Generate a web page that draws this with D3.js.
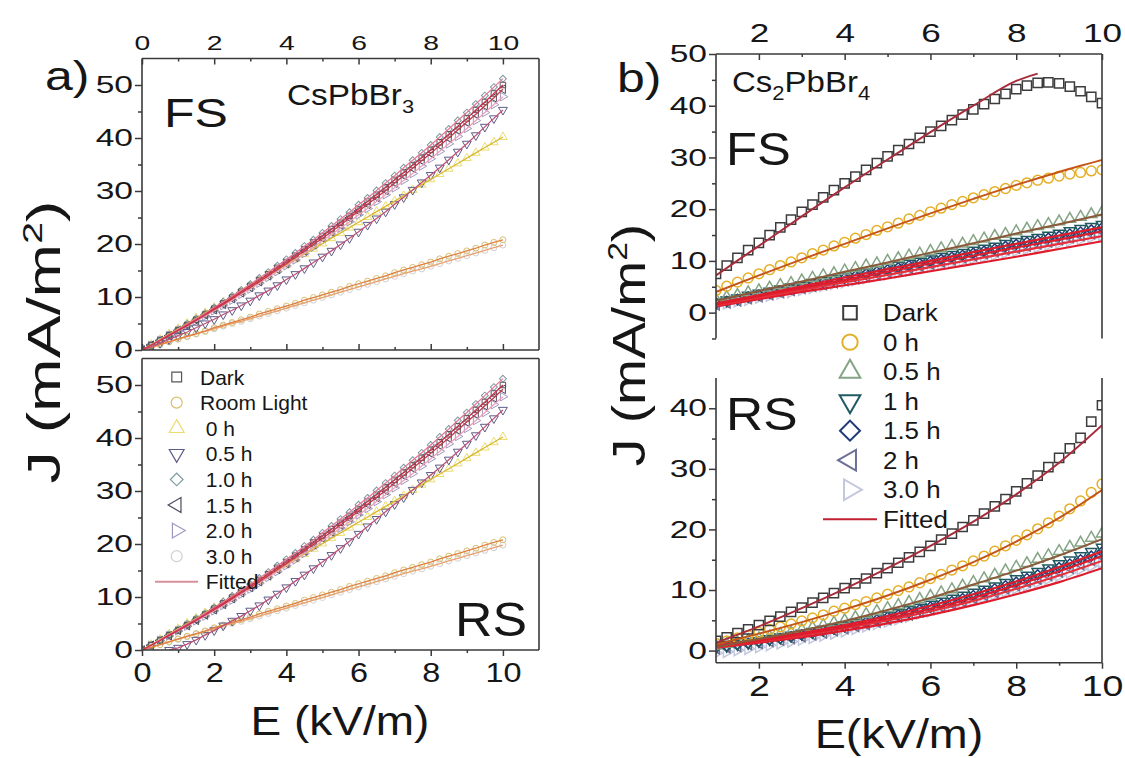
<!DOCTYPE html>
<html>
<head>
<meta charset="utf-8">
<script src="https://cdn.jsdelivr.net/npm/d3@7"></script>
<style>
  body { margin: 0; background: #fff; }
  text { font-family: "Liberation Sans", Arial, sans-serif; fill: #161616; }
</style>
</head>
<body>
<script>
// ---------- panel a) CsPbBr3, E = 0..10 kV/m (same sweep in FS and RS) ----------
var aE = [0,0.25,0.5,0.75,1,1.25,1.5,1.75,2,2.25,2.5,2.75,3,3.25,3.5,3.75,4,4.25,4.5,4.75,5,
          5.25,5.5,5.75,6,6.25,6.5,6.75,7,7.25,7.5,7.75,8,8.25,8.5,8.75,9,9.25,9.5,9.75,10];
var aNames = ["Dark", "Room Light", " 0 h", " 0.5 h", " 1.0 h", " 1.5 h", " 2.0 h", " 3.0 h"];
var aDark  = [0,0.9,1.8,2.8,3.7,4.7,5.7,6.7,7.8,8.8,9.9,11,12.1,13.2,14.3,15.5,16.6,17.8,19,20.3,21.5,
              22.8,24,25.3,26.6,28,29.3,30.7,32.1,33.5,34.9,36.3,37.8,39.2,40.7,42.2,43.7,45.3,46.8,48.4,50];
var aRoom  = [0,0.5,1.0,1.6,2.1,2.6,3.1,3.6,4.2,4.7,5.2,5.7,6.2,6.8,7.3,7.8,8.3,8.8,9.4,9.9,10.4,
              10.9,11.4,12.0,12.5,13.0,13.5,14.0,14.6,15.1,15.6,16.1,16.6,17.2,17.7,18.2,18.7,19.2,19.8,20.3,20.8];
var a0h    = [0,1.0,2.0,3.0,4.0,5.0,6.0,7.0,8.0,9.0,10.0,11.1,12.1,13.1,14.1,15.1,16.1,17.1,18.1,19.1,20.1,
              21.1,22.1,23.1,24.1,25.1,26.1,27.1,28.1,29.1,30.2,31.2,32.2,33.2,34.2,35.2,36.2,37.2,38.2,39.2,40.2];
var a05FS  = [0,0.6,1.3,2.0,2.7,3.4,4.2,5.0,5.8,6.7,7.5,8.4,9.3,10.3,11.2,12.2,13.3,14.3,15.4,16.5,17.6,
              18.7,19.9,21.1,22.3,23.6,24.8,26.1,27.5,28.8,30.2,31.6,33.0,34.4,35.9,37.4,38.9,40.5,42.1,43.7,45.3];
var a05RS  = [null,null,null,0,0.4,1.1,1.9,2.8,3.7,4.6,5.5,6.4,7.4,8.4,9.5,10.6,11.8,13.0,14.2,15.4,16.6,
              17.9,19.2,20.5,21.9,23.3,24.7,26.1,27.5,28.8,30.2,31.6,33.0,34.4,35.9,37.4,38.9,40.5,42.1,43.7,45.3];
var a10h   = [0,0.9,1.9,2.9,3.9,4.9,5.9,6.9,8.0,9.1,10.2,11.3,12.4,13.6,14.7,15.9,17.1,18.3,19.6,20.8,22.1,
              23.4,24.7,26.0,27.4,28.7,30.1,31.5,32.9,34.4,35.8,37.2,38.7,40.2,41.7,43.3,44.8,46.4,48.0,49.6,51.2];
var a15h   = [0,0.9,1.8,2.7,3.7,4.6,5.6,6.6,7.6,8.6,9.7,10.8,11.8,12.9,14.0,15.2,16.3,17.5,18.7,19.9,21.1,
              22.3,23.6,24.9,26.2,27.5,28.8,30.1,31.5,32.9,34.3,35.7,37.1,38.6,40.0,41.5,43.0,44.5,46.1,47.6,49.2];
var a20h   = [0,0.9,1.8,2.7,3.6,4.5,5.5,6.4,7.4,8.4,9.4,10.5,11.5,12.6,13.7,14.8,15.9,17.0,18.2,19.4,20.6,
              21.8,23.0,24.2,25.5,26.7,28.0,29.3,30.6,32.0,33.3,34.7,36.1,37.5,38.9,40.3,41.8,43.3,44.8,46.3,47.8];
var a30h   = [0,0.5,1,1.5,2,2.5,3,3.5,4,4.5,5,5.4,5.9,6.4,6.9,7.4,7.9,8.4,8.9,9.4,9.9,
              10.4,10.9,11.4,11.9,12.4,12.9,13.4,13.9,14.4,14.9,15.3,15.8,16.3,16.8,17.3,17.8,18.3,18.8,19.3,19.8];

// ---------- panel b) Cs2PbBr4, E = 1..10 kV/m ----------
var bE = [1,1.25,1.5,1.75,2,2.25,2.5,2.75,3,3.25,3.5,3.75,4,4.25,4.5,4.75,5,5.25,5.5,5.75,6,
          6.25,6.5,6.75,7,7.25,7.5,7.75,8,8.25,8.5,8.75,9,9.25,9.5,9.75,10];
var bNames = ["Dark", "0 h", "0.5 h", "1 h", "1.5 h", "2 h", "3.0 h"];
var bFSDark = [7.5,9.1,10.6,12.1,13.5,15.0,16.5,18.0,19.5,20.9,22.3,23.7,25.0,26.3,27.6,28.9,30.2,31.4,32.6,33.8,35.0,
               36.1,37.2,38.3,39.3,40.3,41.3,42.3,43.2,43.9,44.4,44.5,44.3,43.7,42.8,41.7,40.5];
var bFS0h   = [4.3,5.1,5.9,6.7,7.5,8.3,9.1,9.8,10.6,11.4,12.1,12.9,13.6,14.4,15.1,15.9,16.6,17.3,18.1,18.8,19.5,
               20.2,20.9,21.5,22.2,22.8,23.4,24.0,24.6,25.1,25.6,26.0,26.4,26.8,27.1,27.4,27.6];
var bFS05h  = [2.5,3.0,3.4,3.9,4.3,4.8,5.3,5.7,6.2,6.7,7.2,7.6,8.1,8.6,9.1,9.5,10.0,10.5,11.0,11.4,11.9,
               12.4,12.9,13.3,13.8,14.3,14.8,15.2,15.7,16.2,16.7,17.1,17.6,18.1,18.5,19.0,19.4];
var bFS1h   = [2.0,2.4,2.8,3.3,3.7,4.1,4.5,4.9,5.3,5.8,6.2,6.6,7.0,7.4,7.8,8.3,8.7,9.1,9.5,9.9,10.3,
               10.8,11.2,11.6,12.0,12.4,12.8,13.3,13.7,14.1,14.5,14.9,15.3,15.8,16.2,16.6,17.0];
var bFS15h  = [1.8,2.2,2.6,3.0,3.4,3.8,4.2,4.6,5.0,5.5,5.9,6.3,6.7,7.1,7.5,7.9,8.3,8.7,9.1,9.5,9.9,
               10.3,10.7,11.1,11.5,11.9,12.3,12.8,13.2,13.6,14.0,14.4,14.8,15.2,15.6,16.0,16.4];
var bFS2h   = [1.6,2.0,2.4,2.8,3.2,3.6,4.0,4.4,4.8,5.2,5.5,5.9,6.3,6.7,7.1,7.5,7.9,8.3,8.7,9.1,9.5,
               9.9,10.3,10.7,11.1,11.5,11.9,12.3,12.6,13.0,13.4,13.8,14.2,14.6,15.0,15.4,15.8];
var bFS3h   = [1.4,1.8,2.2,2.5,2.9,3.3,3.7,4.0,4.4,4.8,5.2,5.6,5.9,6.3,6.7,7.1,7.4,7.8,8.2,8.6,9.0,
               9.3,9.7,10.1,10.5,10.8,11.2,11.6,12.0,12.4,12.7,13.1,13.5,13.9,14.2,14.6,15.0];
var bRSDark = [1.6,2.2,2.9,3.5,4.2,4.9,5.6,6.4,7.1,7.9,8.7,9.5,10.3,11.1,11.9,12.8,13.6,14.5,15.4,16.3,17.3,
               18.3,19.3,20.4,21.5,22.6,23.8,25.0,26.3,27.6,28.9,30.3,31.8,33.4,35.1,37.8,40.5];
var bRS0h   = [1.2,1.6,2.1,2.5,3.0,3.5,3.9,4.4,4.9,5.4,5.9,6.5,7.0,7.6,8.1,8.7,9.3,9.9,10.5,11.2,11.9,
               12.6,13.3,14.0,14.8,15.6,16.4,17.3,18.2,19.1,20.1,21.1,22.2,23.4,24.7,26.1,27.5];
var bRS05h  = [0.8,1.1,1.4,1.7,2.0,2.3,2.7,3.0,3.4,3.8,4.2,4.6,5.0,5.5,6.0,6.5,7.0,7.5,8.0,8.5,9.0,
               9.6,10.1,10.7,11.3,11.9,12.5,13.2,13.8,14.4,15.1,15.7,16.4,17.1,17.8,18.6,19.3];
var bRS1h   = [0.6,0.8,1.1,1.3,1.6,1.9,2.2,2.5,2.8,3.1,3.5,3.8,4.2,4.6,5.0,5.4,5.8,6.2,6.7,7.1,7.6,
               8.1,8.6,9.1,9.6,10.1,10.6,11.2,11.8,12.4,13.0,13.6,14.3,14.9,15.6,16.3,17.0];
var bRS15h  = [0.5,0.7,1.0,1.2,1.5,1.8,2.0,2.3,2.6,2.9,3.3,3.6,4.0,4.4,4.7,5.1,5.5,5.9,6.3,6.8,7.2,
               7.7,8.1,8.6,9.1,9.6,10.2,10.7,11.3,11.9,12.5,13.1,13.7,14.3,15.0,15.6,16.3];
var bRS2h   = [0.4,0.6,0.8,1.1,1.3,1.6,1.8,2.1,2.4,2.7,3.0,3.4,3.7,4.1,4.4,4.8,5.2,5.6,6.0,6.5,6.9,
               7.3,7.8,8.2,8.7,9.2,9.7,10.3,10.8,11.4,11.9,12.5,13.1,13.7,14.3,15.0,15.6];
var bRS3h   = [-0.4,-0.2,0.1,0.3,0.6,0.9,1.2,1.5,1.8,2.1,2.5,2.8,3.2,3.6,4.0,4.4,4.8,5.2,5.6,6.1,6.5,
               7.0,7.4,7.9,8.3,8.8,9.3,9.8,10.3,10.8,11.3,11.9,12.4,12.9,13.5,14.0,14.6];

// fitted curves of panel b (read at whole kV/m)
var fitE      = [1,2,3,4,5,6,7,8,9,10];
var fitEDark  = [1,2,3,4,5,6,7,8,8.5];
var fFSDark = [7.2,12.9,18.6,24.2,29.6,34.9,40.0,44.8,46.2];
var fFS0h   = [4.0,7.2,10.3,13.3,16.3,19.2,22.0,24.7,27.2,29.5];
var fFS05h  = [2.3,4.2,6.0,7.9,9.7,11.6,13.4,15.3,17.1,19.0];
var fFS1h   = [1.8,3.4,5.1,6.8,8.4,10.0,11.7,13.3,14.9,16.5];
var fFS15h  = [1.6,3.2,4.8,6.3,7.9,9.5,11.0,12.6,14.1,15.7];
var fFS2h   = [1.4,2.9,4.4,5.9,7.3,8.8,10.3,11.8,13.3,14.8];
var fFS3h   = [1.2,2.6,4.0,5.3,6.6,8.0,9.4,10.8,12.3,13.8];
var fRSDark = [1.3,4.0,7.0,10.2,13.6,17.3,21.3,25.8,31.0,37.2];
var fRS0h   = [1.0,2.8,4.7,6.8,9.1,11.7,14.6,18.0,21.9,26.5];
var fRS05h  = [0.6,1.9,3.3,4.9,6.7,8.7,10.9,13.2,15.7,18.4];
var fRS1h   = [0.8,1.8,2.9,4.2,5.7,7.4,9.3,11.4,13.8,16.4];
var fRS15h  = [0.7,1.6,2.7,3.9,5.3,6.9,8.7,10.8,13.1,15.6];
var fRS2h   = [0.6,1.5,2.5,3.7,5.0,6.5,8.2,10.2,12.4,14.8];
var fRS3h   = [0.5,1.3,2.2,3.3,4.5,5.9,7.5,9.3,11.3,13.6];

// ---------- styles ----------
var aShapes = ["square","circle","up","down","diamond","left","right","circle"];
var aColors = ["#555555","#d6c070","#eadc70","#5c5c88","#7a9aa0","#4c4c5e","#a098c0","#cfcfcf"];
var aFitCol = ["#d03050","#e08040","#d8b830","#c05078","#e87898","#c83848","#f0a0b8","#e8a070"];
var bShapes = ["square","circle","up","down","diamond","left","right"];
var bColors = ["#3c3c3c","#e4b028","#84a484","#1f5a62","#22387a","#6c7096","#c4c8de"];
var bFitCol = ["#a82c3c","#c4561a","#8a5a3a","#e01c2c","#e01c2c","#e6303c","#e01c2c"];

var symType = {square: d3.symbolSquare, diamond: d3.symbolSquare, circle: d3.symbolCircle,
               up: d3.symbolTriangle, down: d3.symbolTriangle, left: d3.symbolTriangle, right: d3.symbolTriangle};
var symRot = {square: 0, circle: 0, up: 0, down: 180, left: -90, right: 90, diamond: 45};

var svg = d3.select("body").append("svg").attr("width", 1125).attr("height", 758);
var defs = svg.append("defs");

function clipGroup(id, x0, y0, x1, y1) {
    defs.append("clipPath").attr("id", id).append("rect")
        .attr("x", x0).attr("y", y0).attr("width", x1 - x0).attr("height", y1 - y0);
    return svg.append("g").attr("clip-path", "url(#" + id + ")");
}

function seg(x1, y1, x2, y2) {
    svg.append("line").attr("x1", x1).attr("y1", y1).attr("x2", x2).attr("y2", y2)
       .attr("stroke", "#3a3a3a").attr("stroke-width", 1.6);
}

// text that is drawn wider than the font, like the original figure
function label(x, y, size, k, anchor, rot) {
    return svg.append("g")
        .attr("transform", "translate(" + x + "," + y + ") rotate(" + (rot || 0) + ") scale(" + k + ",1)")
        .append("text").attr("font-size", size).attr("text-anchor", anchor || "start");
}

function axis(gen, tx, ty, size, k) {
    var g = svg.append("g").attr("transform", "translate(" + tx + "," + ty + ")").call(gen);
    g.select(".domain").remove();
    g.attr("font-family", null).attr("font-size", size).attr("color", "#3a3a3a");
    g.selectAll("line").attr("stroke-width", 1.5);
    g.selectAll("text").each(function() {
        var t = d3.select(this);
        t.attr("x", (+t.attr("x") || 0) / k).attr("transform", "scale(" + k + ",1)");
    });
    return g;
}

function markers(g, xs, ys, x, y, shape, color, size, sw) {
    var pts = xs.map(function(e, i) { return [e, ys[i]]; }).filter(function(p) { return p[1] != null; });
    g.selectAll(null).data(pts).join("path")
        .attr("d", d3.symbol(symType[shape], size))
        .attr("transform", function(p) { return "translate(" + x(p[0]) + "," + y(p[1]) + ") rotate(" + symRot[shape] + ")"; })
        .attr("fill", "none").attr("stroke", color).attr("stroke-width", sw);
}

function curve(g, xs, ys, x, y, color, w, kind) {
    var pts = xs.map(function(e, i) { return [e, ys[i]]; }).filter(function(p) { return p[1] != null; });
    g.append("path").datum(pts)
        .attr("d", d3.line().x(function(p) { return x(p[0]); }).y(function(p) { return y(p[1]); }).curve(kind || d3.curveLinear))
        .attr("fill", "none").attr("stroke", color).attr("stroke-width", w);
}

var aSize = {square: 30, circle: 28, up: 32, down: 34, left: 32, right: 32, diamond: 24};
var bSize = {square: 85, circle: 75, up: 55, down: 55, left: 55, right: 55, diamond: 50};

// ================= panel a =================
var xa = d3.scaleLinear([0, 11], [142, 539]);
var yaFS = d3.scaleLinear([0, 55], [350, 58.5]);
var yaRS = d3.scaleLinear([0, 55], [650, 358.5]);

[[yaFS, "aFS", [aDark,aRoom,a0h,a05FS,a10h,a15h,a20h,a30h]],
 [yaRS, "aRS", [aDark,aRoom,a0h,a05RS,a10h,a15h,a20h,a30h]]].forEach(function(p) {
    var y = p[0], vals = p[2];
    var g = clipGroup(p[1], 142, y.range()[1], 539, y.range()[0]);
    var order = [7, 1, 2, 6, 5, 3, 4, 0];
    order.forEach(function(i) { markers(g, aE, vals[i], xa, y, aShapes[i], aColors[i], aSize[aShapes[i]], 1); });
    order.forEach(function(i) { curve(g, aE, vals[i], xa, y, aFitCol[i], 1.3); });
});

// frames a
seg(142, 58.5, 539, 58.5); seg(142, 350, 539, 350); seg(142, 58.5, 142, 350); seg(539, 58.5, 539, 350);
seg(142, 358.5, 539, 358.5); seg(142, 650, 539, 650); seg(142, 358.5, 142, 650); seg(539, 358.5, 539, 650);

axis(d3.axisTop(xa).tickValues([0,2,4,6,8,10]).tickSizeInner(-6).tickSizeOuter(0).tickPadding(9), 0, 58.5, 21, 1.35);
axis(d3.axisTop(xa).tickValues([1,3,5,7,9]).tickSizeInner(-3).tickSizeOuter(0).tickFormat(""), 0, 58.5, 21, 1);
axis(d3.axisBottom(xa).tickValues([0,2,4,6,8,10]).tickSizeInner(-6).tickSizeOuter(0).tickFormat(""), 0, 350, 21, 1);
axis(d3.axisBottom(xa).tickValues([1,3,5,7,9]).tickSizeInner(-3).tickSizeOuter(0).tickFormat(""), 0, 350, 21, 1);
axis(d3.axisBottom(xa).tickValues([0,2,4,6,8,10]).tickSizeInner(6).tickSizeOuter(0).tickPadding(7), 0, 650, 27, 1.2);
axis(d3.axisBottom(xa).tickValues([1,3,5,7,9]).tickSizeInner(3).tickSizeOuter(0).tickFormat(""), 0, 650, 27, 1);
[yaFS, yaRS].forEach(function(y) {
    axis(d3.axisLeft(y).tickValues([0,10,20,30,40,50]).tickSizeInner(7).tickSizeOuter(0).tickPadding(2), 142, 0, 24, 1.4);
    axis(d3.axisLeft(y).tickValues([5,15,25,35,45]).tickSizeInner(4).tickSizeOuter(0).tickFormat(""), 142, 0, 24, 1);
});

// legend a
var legA = svg.append("g");
aNames.forEach(function(n, i) {
    var cy = 377 + i * 25.6;
    legA.append("path").attr("d", d3.symbol(symType[aShapes[i]], aShapes[i] === "diamond" ? 80 : 95))
        .attr("transform", "translate(176.7," + cy + ") rotate(" + symRot[aShapes[i]] + ")")
        .attr("fill", "none").attr("stroke", aColors[i]).attr("stroke-width", 1.2);
    legA.append("text").attr("x", 200).attr("y", cy + 7.5).attr("font-size", 21)
        .style("white-space", "pre").text(n);
});
legA.append("line").attr("x1", 155).attr("x2", 198).attr("y1", 581.7).attr("y2", 581.7)
    .attr("stroke", "#d8909c").attr("stroke-width", 2);
legA.append("text").attr("x", 200).attr("y", 589.2).attr("font-size", 21).style("white-space", "pre").text(" Fitted");

// ================= panel b =================
var xb = d3.scaleLinear([1, 10], [716, 1102]);
var ybFS = d3.scaleLinear([-5, 50], [338.5, 54]);
var ybRS = d3.scaleLinear([-2, 45], [662.7, 378]);

[[ybFS, "bFS", [bFSDark,bFS0h,bFS05h,bFS1h,bFS15h,bFS2h,bFS3h], [fFSDark,fFS0h,fFS05h,fFS1h,fFS15h,fFS2h,fFS3h]],
 [ybRS, "bRS", [bRSDark,bRS0h,bRS05h,bRS1h,bRS15h,bRS2h,bRS3h], [fRSDark,fRS0h,fRS05h,fRS1h,fRS15h,fRS2h,fRS3h]]]
.forEach(function(p, k) {
    var y = p[0], vals = p[2], fits = p[3];
    var g = clipGroup(p[1], 716, y.range()[1], 1102, y.range()[0]);
    var order = [6, 5, 4, 3, 2, 1, 0];
    order.forEach(function(i) { markers(g, bE, vals[i], xb, y, bShapes[i], bColors[i], bSize[bShapes[i]], 1.5); });
    order.forEach(function(i) {
        var xs = (k === 0 && i === 0) ? fitEDark : fitE;
        curve(g, xs, fits[i], xb, y, bFitCol[i], i < 3 ? 2 : 2.2, d3.curveMonotoneX);
    });
});

// frames b (no inner borders between FS and RS)
seg(716, 54, 1102, 54); seg(716, 54, 716, 338.5); seg(1102, 54, 1102, 338.5);
seg(716, 662.7, 1102, 662.7); seg(716, 378, 716, 662.7); seg(1102, 378, 1102, 662.7);

axis(d3.axisTop(xb).tickValues([2,4,6,8,10]).tickSizeInner(-6).tickSizeOuter(0).tickPadding(12), 0, 54, 26, 1.35);
axis(d3.axisTop(xb).tickValues([3,5,7,9]).tickSizeInner(-3).tickSizeOuter(0).tickFormat(""), 0, 54, 26, 1);
axis(d3.axisBottom(xb).tickValues([2,4,6,8,10]).tickSizeInner(6).tickSizeOuter(0).tickPadding(6), 0, 662.7, 30, 1.25);
axis(d3.axisBottom(xb).tickValues([3,5,7,9]).tickSizeInner(3).tickSizeOuter(0).tickFormat(""), 0, 662.7, 30, 1);
axis(d3.axisLeft(ybFS).tickValues([0,10,20,30,40,50]).tickSizeInner(7).tickSizeOuter(0).tickPadding(2), 716, 0, 24, 1.4);
axis(d3.axisLeft(ybFS).tickValues([-5,5,15,25,35,45]).tickSizeInner(4).tickSizeOuter(0).tickFormat(""), 716, 0, 24, 1);
axis(d3.axisLeft(ybRS).tickValues([0,10,20,30,40]).tickSizeInner(7).tickSizeOuter(0).tickPadding(2), 716, 0, 24, 1.4);
axis(d3.axisLeft(ybRS).tickValues([5,15,25,35]).tickSizeInner(4).tickSizeOuter(0).tickFormat(""), 716, 0, 24, 1);

// legend b
var legB = svg.append("g");
bNames.forEach(function(n, i) {
    var cy = 312.7 + i * 29.5;
    legB.append("path").attr("d", d3.symbol(symType[bShapes[i]], bShapes[i] === "diamond" ? 200 : 185))
        .attr("transform", "translate(850," + cy + ") rotate(" + symRot[bShapes[i]] + ")")
        .attr("fill", "none").attr("stroke", bColors[i]).attr("stroke-width", 2);
    legB.append("g").attr("transform", "translate(883," + (cy + 8.5) + ") scale(1.08,1)")
        .append("text").attr("font-size", 24).text(n);
});
legB.append("line").attr("x1", 823).attr("x2", 877).attr("y1", 519.3).attr("y2", 519.3)
    .attr("stroke", "#c02030").attr("stroke-width", 2);
legB.append("g").attr("transform", "translate(883,527.8) scale(1.08,1)")
    .append("text").attr("font-size", 24).text("Fitted");

// ================= titles =================
label(45, 90, 40, 1.25).text("a)");
label(617, 92, 40, 1.25).text("b)");
label(164, 127, 40, 1.25).text("FS");
label(455, 636, 48, 1.08).text("RS");
label(726, 165, 46, 1.1).text("FS");
label(726, 430, 46, 1.12).text("RS");

var t1 = label(287, 105, 29, 1.15);
t1.append("tspan").text("CsPbBr");
t1.append("tspan").attr("font-size", 19).attr("dy", 8).text("3");

var t2 = label(732, 92, 30, 1.1);
t2.append("tspan").text("Cs");
t2.append("tspan").attr("font-size", 20).attr("dy", 8).text("2");
t2.append("tspan").attr("dy", -8).text("PbBr");
t2.append("tspan").attr("font-size", 20).attr("dy", 8).text("4");

label(340, 735, 40, 1.15, "middle").text("E (kV/m)");
label(899, 748, 41, 1.14, "middle").text("E(kV/m)");

function jLabel(x, y, k) {
    var t = label(x, y, 46, k, "middle", -90);
    t.append("tspan").text("J (mA/m");
    t.append("tspan").attr("font-size", 28).attr("dy", -18).text("2");
    t.append("tspan").attr("dy", 18).text(")");
}
jLabel(60, 342, 1.4);
jLabel(645, 345, 1.2);
</script>
</body>
</html>
